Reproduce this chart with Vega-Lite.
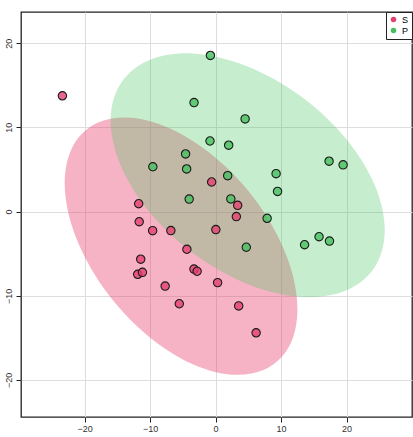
{
  "$schema": "https://vega.github.io/schema/vega-lite/v6.json",
  "width": 413,
  "height": 437,
  "autosize": {"type": "fit", "contains": "padding"},
  "padding": {"left": 4, "top": 12, "right": 1, "bottom": 4},
  "background": "white",
  "config": {
    "view": {"stroke": "#222222", "strokeWidth": 1.3},
    "axis": {
      "grid": true,
      "gridColor": "#dddddd",
      "gridWidth": 1,
      "domain": false,
      "tickColor": "#222222",
      "tickSize": 5,
      "labelColor": "#333333",
      "labelFont": "Liberation Sans",
      "labelFontSize": 9,
      "title": null
    },
    "legend": {"labelFont": "Liberation Sans"}
  },
  "datasets": {
    "pts": [
      {"x": -0.78, "y": 18.54, "group": "P"},
      {"x": -3.28, "y": 12.94, "group": "P"},
      {"x": 4.52, "y": 11.0, "group": "P"},
      {"x": -0.84, "y": 8.38, "group": "P"},
      {"x": 2.01, "y": 7.88, "group": "P"},
      {"x": -4.57, "y": 6.84, "group": "P"},
      {"x": -9.57, "y": 5.32, "group": "P"},
      {"x": -4.41, "y": 5.06, "group": "P"},
      {"x": 1.86, "y": 4.26, "group": "P"},
      {"x": 17.34, "y": 5.98, "group": "P"},
      {"x": 19.48, "y": 5.55, "group": "P"},
      {"x": 9.25, "y": 4.5, "group": "P"},
      {"x": 9.47, "y": 2.39, "group": "P"},
      {"x": 7.88, "y": -0.8, "group": "P"},
      {"x": 15.81, "y": -2.99, "group": "P"},
      {"x": 17.4, "y": -3.51, "group": "P"},
      {"x": 13.6, "y": -3.94, "group": "P"},
      {"x": -4.02, "y": 1.48, "group": "P"},
      {"x": 2.34, "y": 1.5, "group": "P"},
      {"x": 4.7, "y": -4.24, "group": "P"},
      {"x": -23.38, "y": 13.75, "group": "S"},
      {"x": -0.59, "y": 3.51, "group": "S"},
      {"x": 3.38, "y": 0.74, "group": "S"},
      {"x": 3.18, "y": -0.6, "group": "S"},
      {"x": -11.73, "y": 0.93, "group": "S"},
      {"x": -11.65, "y": -1.21, "group": "S"},
      {"x": -9.6, "y": -2.27, "group": "S"},
      {"x": -6.82, "y": -2.26, "group": "S"},
      {"x": 0.05, "y": -2.14, "group": "S"},
      {"x": -4.37, "y": -4.48, "group": "S"},
      {"x": -11.42, "y": -5.66, "group": "S"},
      {"x": -11.88, "y": -7.45, "group": "S"},
      {"x": -11.16, "y": -7.22, "group": "S"},
      {"x": -3.29, "y": -6.83, "group": "S"},
      {"x": -2.81, "y": -7.09, "group": "S"},
      {"x": 0.32, "y": -8.44, "group": "S"},
      {"x": -7.69, "y": -8.85, "group": "S"},
      {"x": -5.53, "y": -10.95, "group": "S"},
      {"x": 3.54, "y": -11.21, "group": "S"},
      {"x": 6.2, "y": -14.4, "group": "S"}
    ],
    "ell": [
      {"group": "P", "i": 0, "x": 25.84, "y": -2.21},
      {"group": "P", "i": 1, "x": 24.25, "y": 3.24},
      {"group": "P", "i": 2, "x": 19.71, "y": 8.85},
      {"group": "P", "i": 3, "x": 12.92, "y": 13.76},
      {"group": "P", "i": 4, "x": 4.91, "y": 17.24},
      {"group": "P", "i": 5, "x": -3.1, "y": 18.75},
      {"group": "P", "i": 6, "x": -9.89, "y": 18.06},
      {"group": "P", "i": 7, "x": -14.43, "y": 15.28},
      {"group": "P", "i": 8, "x": -16.02, "y": 10.83},
      {"group": "P", "i": 9, "x": -14.43, "y": 5.38},
      {"group": "P", "i": 10, "x": -9.89, "y": -0.23},
      {"group": "P", "i": 11, "x": -3.1, "y": -5.14},
      {"group": "P", "i": 12, "x": 4.91, "y": -8.62},
      {"group": "P", "i": 13, "x": 12.92, "y": -10.13},
      {"group": "P", "i": 14, "x": 19.71, "y": -9.44},
      {"group": "P", "i": 15, "x": 24.25, "y": -6.66},
      {"group": "S", "i": 0, "x": 12.51, "y": -11.6},
      {"group": "S", "i": 1, "x": 11.16, "y": -5.93},
      {"group": "S", "i": 2, "x": 7.31, "y": 0.02},
      {"group": "S", "i": 3, "x": 1.54, "y": 5.34},
      {"group": "S", "i": 4, "x": -5.26, "y": 9.22},
      {"group": "S", "i": 5, "x": -12.06, "y": 11.07},
      {"group": "S", "i": 6, "x": -17.83, "y": 10.61},
      {"group": "S", "i": 7, "x": -21.68, "y": 7.91},
      {"group": "S", "i": 8, "x": -23.03, "y": 3.38},
      {"group": "S", "i": 9, "x": -21.68, "y": -2.29},
      {"group": "S", "i": 10, "x": -17.83, "y": -8.24},
      {"group": "S", "i": 11, "x": -12.06, "y": -13.56},
      {"group": "S", "i": 12, "x": -5.26, "y": -17.44},
      {"group": "S", "i": 13, "x": 1.54, "y": -19.29},
      {"group": "S", "i": 14, "x": 7.31, "y": -18.83},
      {"group": "S", "i": 15, "x": 11.16, "y": -16.13}
    ]
  },
  "encoding": {
    "x": {"field": "x", "type": "quantitative", "scale": {"domain": [-29.7, 30], "nice": false, "zero": false}, "axis": {"values": [-20, -10, 0, 10, 20]}},
    "y": {"field": "y", "type": "quantitative", "scale": {"domain": [-24.4, 23.7], "nice": false, "zero": false}, "axis": {"values": [-20, -10, 0, 10, 20], "labelAngle": -90, "labelAlign": "center", "labelBaseline": "bottom", "labelPadding": 3}}
  },
  "layer": [
    {
      "data": {"name": "ell"},
      "transform": [{"filter": "datum.group === 'S'"}],
      "mark": {"type": "line", "interpolate": "cardinal-closed", "fill": "#e8406e", "fillOpacity": 0.4, "strokeWidth": 0},
      "encoding": {"order": {"field": "i", "type": "quantitative"}}
    },
    {
      "data": {"name": "ell"},
      "transform": [{"filter": "datum.group === 'P'"}],
      "mark": {"type": "line", "interpolate": "cardinal-closed", "fill": "#47c25f", "fillOpacity": 0.3, "strokeWidth": 0},
      "encoding": {"order": {"field": "i", "type": "quantitative"}}
    },
    {
      "data": {"name": "pts"},
      "mark": {"type": "point", "shape": "circle", "filled": true, "size": 70, "fillOpacity": 0.8, "stroke": "#1a1a1a", "strokeOpacity": 1, "strokeWidth": 1.1},
      "encoding": {
        "color": {"field": "group", "type": "nominal", "scale": {"domain": ["S", "P"], "range": ["#e3406f", "#45bf5e"]},
          "legend": {"title": null, "orient": "top-right", "offset": 0, "strokeColor": "#222222", "fillColor": "white", "padding": 3, "labelFontSize": 9, "symbolSize": 30, "symbolStrokeWidth": 0, "symbolOpacity": 1, "rowPadding": 1}}
      }
    }
  ]
}
